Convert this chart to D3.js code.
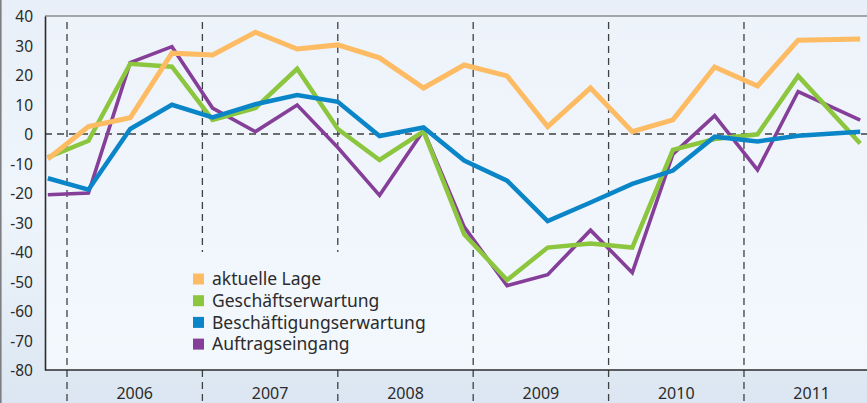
<!DOCTYPE html>
<html><head><meta charset="utf-8">
<script src="https://cdn.jsdelivr.net/npm/d3@7"></script>
<style>
html,body{margin:0;padding:0;overflow:hidden;background:#eaf1f9}
svg{display:block}
text{font-family:"Noto Sans",sans-serif;fill:#2b2b2b}
</style></head>
<body><svg id="c" width="867" height="403"></svg>
<script>
// survey dates, months since January 2006
const surveyMonths = [-1.7, 1.9, 5.6, 9.3, 12.9, 16.7, 20.4, 24.0, 27.7, 31.6, 35.2, 39.0, 42.6, 46.4, 50.1, 53.7, 57.4, 61.2, 64.8, 70.3];
const years = ["2006", "2007", "2008", "2009", "2010", "2011"];
const yTicks = [40, 30, 20, 10, 0, -10, -20, -30, -40, -50, -60, -70, -80];
const seriesNames = ["aktuelle Lage", "Geschäftserwartung", "Beschäftigungserwartung", "Auftragseingang"];
const aktuelleLage = [-8.5, 2.5, 5.5, 27.4, 26.8, 34.5, 28.8, 30.2, 25.8, 15.6, 23.4, 19.7, 2.5, 15.6, 0.8, 4.8, 22.7, 16.3, 31.8, 32.2];
const geschaeftserwartung = [-7.9, -2.3, 23.8, 22.8, 4.8, 8.8, 22.1, 1.7, -8.8, 0.9, -34, -49.5, -38.5, -37.1, -38.5, -5.4, -1.7, -0.1, 19.7, -3.2];
const beschaeftigungserwartung = [-15, -18.9, 1.7, 9.9, 5.6, 10.1, 13.2, 10.9, -0.7, 2.2, -9, -15.8, -29.5, -23.2, -16.9, -12.4, -0.9, -2.5, -0.6, 0.8];
const auftragseingang = [-20.6, -20, 24.2, 29.6, 8.8, 0.8, 9.8, -4.6, -20.8, 1.2, -31.5, -51.4, -47.7, -32.6, -47, -6.8, 6.2, -12.2, 14.4, 4.7];
const colors = ["#fdbb64", "#8cc63f", "#0a85c8", "#853f98"];
const widths = [5, 4.5, 4.5, 3.6];

const svg = d3.select("#c");
const W = 867, H = 403;
const mLeft = 45, mTop = 16, mBottom = 370;

// background
const defs = svg.append("defs");
const g1 = defs.append("linearGradient").attr("id","bg").attr("x1",0).attr("y1",0).attr("x2",0).attr("y2",1);
g1.append("stop").attr("offset","0").attr("stop-color","#e8eff8");
g1.append("stop").attr("offset","0.5").attr("stop-color","#eff5fb");
g1.append("stop").attr("offset","1").attr("stop-color","#dbe6f2");
svg.append("rect").attr("width",W).attr("height",H).attr("fill","url(#bg)");
const g2 = defs.append("linearGradient").attr("id","pl").attr("x1",0).attr("y1",0).attr("x2",0).attr("y2",1);
g2.append("stop").attr("offset","0").attr("stop-color","#edf3fa");
g2.append("stop").attr("offset","1").attr("stop-color","#f3f8fd");
svg.append("rect").attr("x",mLeft).attr("y",mTop).attr("width",W-mLeft).attr("height",mBottom-mTop).attr("fill","url(#pl)");

const x = d3.scaleLinear().domain([0, 72]).range([67, 67 + 72*11.283]);
const y = d3.scaleLinear().domain([-80, 40]).range([mBottom, mTop]);

// frame line at left
svg.append("line").attr("x1",0.8).attr("x2",0.8).attr("y1",0).attr("y2",H).attr("stroke","#7d7f82").attr("stroke-width",1.6);

// year boundary dashed lines
const boundaries = d3.range(0, 72, 12);
boundaries.forEach((m,i)=>{
  const segs = (i===1||i===2) ? [[22,252],[mBottom,H]] : [[22,H]];
  segs.forEach(s=>{
    svg.append("line").attr("x1",x(m)).attr("x2",x(m)).attr("y1",s[0]).attr("y2",s[1])
      .attr("stroke","#3f4042").attr("stroke-width",1.3).attr("stroke-dasharray","7,5");
  });
});

// zero line
svg.append("line").attr("x1",mLeft).attr("x2",W).attr("y1",y(0)).attr("y2",y(0))
  .attr("stroke","#3f4042").attr("stroke-width",1.3).attr("stroke-dasharray","7,5");

// top border
svg.append("line").attr("x1",mLeft).attr("x2",W).attr("y1",mTop).attr("y2",mTop).attr("stroke","#8a8c8f").attr("stroke-width",1.6);

// y axis
const yAxis = d3.axisLeft(y).tickValues(yTicks).tickSize(0).tickPadding(12).tickFormat(d=>String(d));
const ya = svg.append("g").attr("transform",`translate(${mLeft},0)`).call(yAxis);
ya.select(".domain").attr("stroke","#2b2b2b").attr("stroke-width",1.6);
ya.selectAll("text").attr("font-size",15.5).attr("fill","#2b2b2b").attr("dy","0.36em").style("font-family","'Noto Sans',sans-serif");

// x axis
svg.append("line").attr("x1",mLeft).attr("x2",W).attr("y1",mBottom).attr("y2",mBottom).attr("stroke","#2b2b2b").attr("stroke-width",1.6);
svg.selectAll(".yr").data(years).enter().append("text").attr("class","yr")
  .attr("x",(d,i)=>x(i*12+6)).attr("y",399).attr("text-anchor","middle").attr("font-size",16).text(d=>d);

// lines
const allSeries = [aktuelleLage, geschaeftserwartung, beschaeftigungserwartung, auftragseingang];
const line = d3.line().x((d,i)=>x(surveyMonths[i])).y(d=>y(d));
[3,1,2,0].forEach(k=>{
  svg.append("path").datum(allSeries[k]).attr("d",line).attr("fill","none")
    .attr("stroke",colors[k]).attr("stroke-width",widths[k]).attr("stroke-linejoin","miter").attr("stroke-linecap","butt");
});

// legend
const lg = svg.append("g");
seriesNames.forEach((n,i)=>{
  const cy = 279 + i*21.7;
  lg.append("rect").attr("x",193).attr("y",cy-5.5).attr("width",11).attr("height",11).attr("fill",colors[i]);
  lg.append("text").attr("x",212).attr("y",cy).attr("dy","0.35em").attr("font-size",17.5).text(n);
});
</script></body></html>
